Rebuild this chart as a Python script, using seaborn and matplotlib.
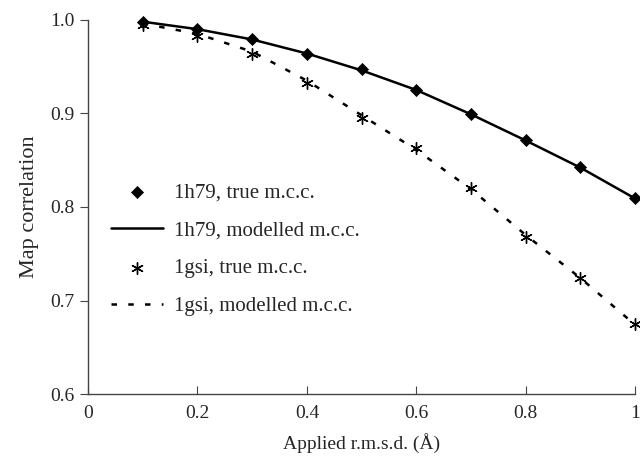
import matplotlib
matplotlib.use("Agg")
import matplotlib.pyplot as plt
import seaborn as sns
import pandas as pd

sns.set_style("ticks")
plt.rcParams['font.family'] = ['Liberation Serif', 'DejaVu Serif']

rmsd = [0.1, 0.2, 0.3, 0.4, 0.5, 0.6, 0.7, 0.8, 0.9, 1.0]
h79_true = [0.998, 0.990, 0.979, 0.964, 0.947, 0.925, 0.899, 0.872, 0.843, 0.810]
h79_model = [0.998, 0.990, 0.979, 0.964, 0.946, 0.925, 0.899, 0.871, 0.842, 0.809]
gsi_true = [0.995, 0.983, 0.964, 0.933, 0.895, 0.863, 0.820, 0.768, 0.724, 0.675]
gsi_model = [0.996, 0.985, 0.966, 0.935, 0.898, 0.861, 0.819, 0.770, 0.724, 0.674]

df = pd.DataFrame({"x": rmsd, "h79t": h79_true, "h79m": h79_model,
                   "gsit": gsi_true, "gsim": gsi_model})

fig = plt.figure(figsize=(6.4, 4.61), dpi=100)
ax = fig.add_axes([0.1375, 0.145, 0.855, 0.812])

sns.scatterplot(data=df, x="x", y="h79t", marker="D", s=38, color="black",
                edgecolor="black", ax=ax, label="1h79, true m.c.c.", zorder=3,
                clip_on=False)
sns.lineplot(data=df, x="x", y="h79m", color="black", lw=1.8, ax=ax,
             label="1h79, modelled m.c.c.")
sns.scatterplot(data=df, x="x", y="gsit", marker=(6, 2, 0), s=70, color="black",
                edgecolor="black", linewidth=1.0, ax=ax, label="1gsi, true m.c.c.",
                zorder=3, clip_on=False)
sns.lineplot(data=df, x="x", y="gsim", color="black", lw=1.8, ax=ax,
             linestyle=(0, (2.2, 4.5)), label="1gsi, modelled m.c.c.")

ax.set_xlim(0, 1)
ax.set_ylim(0.6, 1.0)
ax.set_xticks([0, 0.2, 0.4, 0.6, 0.8, 1.0])
ax.set_xticklabels(["0", "0.2", "0.4", "0.6", "0.8", "1"])
ax.set_yticks([0.6, 0.7, 0.8, 0.9, 1.0])
ax.set_yticklabels(["0.6", "0.7", "0.8", "0.9", "1.0"])
ax.tick_params(axis="x", direction="in", length=6, labelsize=14, pad=8, color="#444444")
ax.tick_params(axis="y", direction="out", length=6, labelsize=14, pad=4, color="#444444")
for s in ["top", "right"]:
    ax.spines[s].set_visible(False)
for s in ["left", "bottom"]:
    ax.spines[s].set_color("#444444")
    ax.spines[s].set_linewidth(1.0)

ax.set_xlabel("Applied r.m.s.d. (Å)", fontsize=14, labelpad=8)
ax.set_ylabel("Map correlation", fontsize=16, labelpad=8)

ax.legend(loc="upper left", bbox_to_anchor=(0.008, 0.615), frameon=False,
          fontsize=15, labelspacing=0.88, handlelength=2.5, handletextpad=0.5)

fig.savefig("out.png", dpi=100)
